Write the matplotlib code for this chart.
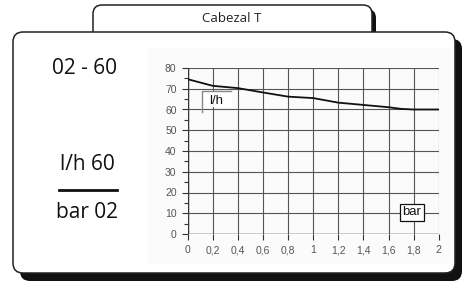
import matplotlib
matplotlib.use("Agg")
import matplotlib.pyplot as plt
from matplotlib.patches import FancyBboxPatch, Rectangle

# ---- data ----
pressure_bar = [0.0, 0.1, 0.2, 0.4, 0.6, 0.8, 1.0, 1.2, 1.4, 1.6, 1.7, 1.8, 2.0]
flow_lh = [74.6, 73.0, 71.4, 70.3, 68.2, 66.2, 65.5, 63.3, 62.2, 61.1, 60.3, 60.0, 60.0]
x_ticks = [0, 0.2, 0.4, 0.6, 0.8, 1.0, 1.2, 1.4, 1.6, 1.8, 2.0]
x_tick_labels = ["0", "0,2", "0,4", "0,6", "0,8", "1", "1,2", "1,4", "1,6", "1,8", "2"]
y_ticks = [0, 10, 20, 30, 40, 50, 60, 70, 80]
y_tick_labels = ["0", "10", "20", "30", "40", "50", "60", "70", "80"]
title_text = "Cabezal T"
model_text = "02 - 60"
flow_text = "l/h 60"
pressure_text = "bar 02"
y_unit = "l/h"
x_unit = "bar"

W, H = 466, 284
fig = plt.figure(figsize=(W / 100, H / 100), dpi=100)
fig.patch.set_facecolor("white")

# background canvas in pixel coordinates
bg = fig.add_axes([0, 0, 1, 1])
bg.set_xlim(0, W)
bg.set_ylim(H, 0)
bg.axis("off")

# tab shadow + tab
bg.add_patch(FancyBboxPatch((97, 9), 279, 40, boxstyle="round,pad=0,rounding_size=9",
                            facecolor="#111111", edgecolor="none", zorder=1))
bg.add_patch(FancyBboxPatch((93, 5), 279, 40, boxstyle="round,pad=0,rounding_size=9",
                            facecolor="white", edgecolor="#222222", linewidth=1.1, zorder=2))
bg.text(232, 18.5, title_text, ha="center", va="center", fontsize=9.5,
        family="Open Sans", color="#222222", zorder=3)

# main box shadow + box
bg.add_patch(FancyBboxPatch((20, 39), 442, 242, boxstyle="round,pad=0,rounding_size=10",
                            facecolor="#111111", edgecolor="none", zorder=4))
bg.add_patch(FancyBboxPatch((13, 32), 442, 241, boxstyle="round,pad=0,rounding_size=10",
                            facecolor="white", edgecolor="#222222", linewidth=1.1, zorder=5))
bg.add_patch(Rectangle((148, 48), 303, 216, facecolor="#fbfbfb", edgecolor="none", zorder=6))

# left texts
bg.text(85, 68, model_text, ha="center", va="center", fontsize=15,
        family="Open Sans", color="#111111", zorder=7)
bg.text(87, 164, flow_text, ha="center", va="center", fontsize=15,
        family="Open Sans", color="#111111", zorder=7)
bg.plot([59, 117], [190, 190], color="#111111", linewidth=2, zorder=7)
bg.text(87, 213, pressure_text, ha="center", va="center", fontsize=15,
        family="Open Sans", color="#111111", zorder=7)

# chart axes
x0, x1 = 187.7, 438.7
y0, y1 = 234.0, 68.0
ax = fig.add_axes([x0 / W, (H - y0) / H, (x1 - x0) / W, (y0 - y1) / H])
ax.set_facecolor("none")
ax.set_xlim(0, 2)
ax.set_ylim(0, 80)
ax.set_xticks(x_ticks)
ax.set_xticklabels(x_tick_labels)
ax.set_yticks(y_ticks)
ax.set_yticklabels(y_tick_labels)
ax.set_yticks([5, 15, 25, 35, 45, 55, 65, 75], minor=True)
ax.grid(True, which="major", color="#555555", linewidth=0.8)
for s in ax.spines.values():
    s.set_visible(False)
ax.axhline(0, color="#333333", linewidth=1.0)
ax.axvline(0, color="#333333", linewidth=1.0)
ax.tick_params(axis="both", which="major", length=4, width=0.8, color="#333333",
               labelsize=7.5, labelcolor="#555555", pad=4)
ax.tick_params(axis="y", which="minor", length=3, width=0.8, color="#333333")
for lab in ax.get_xticklabels() + ax.get_yticklabels():
    lab.set_family("Liberation Sans")

ax.plot(pressure_bar, flow_lh, color="#111111", linewidth=1.3, zorder=5)

# unit labels
ax.add_patch(Rectangle((0.11, 61.0), 0.24, 8.0, facecolor="white", edgecolor="none", zorder=6))
ax.plot([0.11, 0.11, 0.345], [58.8, 69, 69], color="#888888", linewidth=1.0, zorder=7)
ax.text(0.23, 64.3, y_unit, ha="center", va="center", fontsize=9.5,
        family="Liberation Sans", color="#111111", zorder=8)
ax.text(1.785, 10.4, x_unit, ha="center", va="center", fontsize=9.5,
        family="Liberation Sans", color="#111111", zorder=8,
        bbox=dict(boxstyle="square,pad=0.2", facecolor="white", edgecolor="#111111", linewidth=0.9))

fig.savefig("out.png", dpi=100)
